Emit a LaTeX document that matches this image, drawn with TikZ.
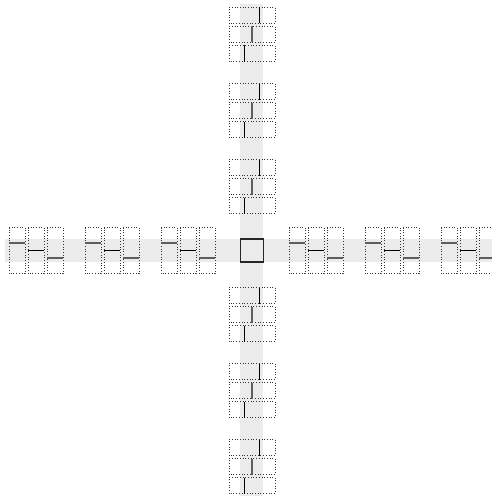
\documentclass[tikz,border=0pt]{standalone}
\usepackage{tikz}

\definecolor{bandgray}{HTML}{EBEBEB}
\definecolor{seggray}{HTML}{5E5E5E}
\tikzset{
  cellbox/.style={draw=black!80, dotted, line width=0.7pt},
  blackseg/.style={black, line width=1.1pt},
  grayseg/.style={seggray, line width=2pt},
}

\begin{document}
\begin{tikzpicture}[x=1pt,y=1pt]
\useasboundingbox (-252,-245.5) rectangle (240,250.5);
\clip (-252,-245.5) rectangle (240,250.5);
% grey bands
\fill[bandgray] (-11.5,-246.5) rectangle (11.5,246.5);
\fill[bandgray] (-246.5,-11.5) rectangle (246.5,11.5);
% centre square
\draw[black!85, line width=1.1pt] (-11.5,-11.5) rectangle (11.5,11.5);
% horizontal arm
\foreach \g in {-216,-140,-64,64,140,216}{
  \foreach \k/\s in {-1/grayseg,0/blackseg,1/grayseg}{
    \draw[cellbox] (\g+19*\k-8,-23) rectangle (\g+19*\k+8,23);
    \draw[\s] (\g+19*\k-8,-7.5*\k) -- (\g+19*\k+8,-7.5*\k);
  }
}
% vertical arm
\foreach \g in {-216,-140,-64,64,140,216}{
  \foreach \k/\s in {-1/blackseg,0/grayseg,1/blackseg}{
    \draw[cellbox] (-23,\g+19*\k-8) rectangle (23,\g+19*\k+8);
    \draw[\s] (7.5*\k,\g+19*\k-8) -- (7.5*\k,\g+19*\k+8);
  }
}
\end{tikzpicture}
\end{document}
